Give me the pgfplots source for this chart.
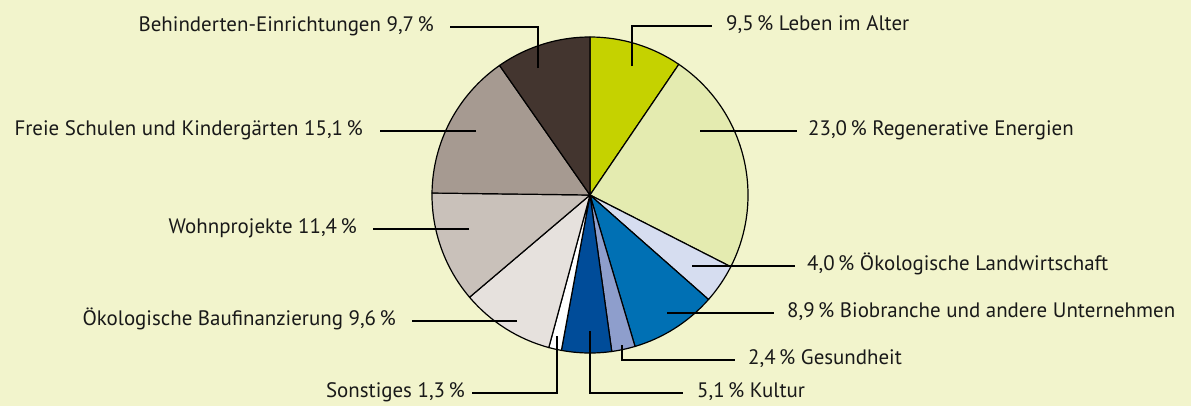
\documentclass[border=0pt]{standalone}
\usepackage{pgfplots}
\pgfplotsset{compat=1.18}
\usepackage{pgfplotstable}
\usepackage{fontspec}
\setmainfont{PT Sans}
\definecolor{bgc}{HTML}{F2F4CC}
\definecolor{cA}{HTML}{C5D200}
\definecolor{cB}{HTML}{E4EBB0}
\definecolor{cC}{HTML}{D6DDF0}
\definecolor{cD}{HTML}{0070B4}
\definecolor{cE}{HTML}{8E9ECC}
\definecolor{cF}{HTML}{004C99}
\definecolor{cG}{HTML}{FFFFFF}
\definecolor{cH}{HTML}{E6E1DD}
\definecolor{cI}{HTML}{C9C1BA}
\definecolor{cJ}{HTML}{A69A91}
\definecolor{cK}{HTML}{43352F}
\pgfplotstableread{
val col
9.5 cA
23.0 cB
4.0 cC
8.9 cD
2.4 cE
5.1 cF
1.3 cG
9.6 cH
11.4 cI
15.1 cJ
9.7 cK
}\piedata
\begin{document}
\begin{tikzpicture}
\begin{axis}[x=1bp,y=1bp,xmin=0,xmax=1191,ymin=0,ymax=406,y dir=reverse,
  hide axis,clip=false,enlargelimits=false]
\fill[bgc] (axis cs:0,0) rectangle (axis cs:1191,406);
\def\cum{0}
\pgfplotsforeachungrouped \i in {0,...,10}{%
  \pgfplotstablegetelem{\i}{val}\of\piedata
  \let\v\pgfplotsretval
  \pgfplotstablegetelem{\i}{col}\of\piedata
  \let\c\pgfplotsretval
  \pgfmathsetmacro\a{90-3.6*\cum}%
  \pgfmathsetmacro\b{90-3.6*(\cum+\v)}%
  \edef\tmp{\noexpand\filldraw[fill=\c,draw=black,line width=1.2bp,line join=round] (axis cs:590,195) -- ++(\a:158bp) arc[start angle=\a,end angle=\b,radius=158bp] -- cycle;}%
  \tmp
  \pgfmathsetmacro\cum{\cum+\v}%
}
\tikzset{ld/.style={line width=2.7bp,black},lb/.style={font=\fontsize{21}{24}\selectfont,inner sep=0pt,text=black!90}}
% right side
\draw[ld] (axis cs:632,66) -- (axis cs:632,26) -- (axis cs:712,26);
\node[lb,anchor=mid west] at (axis cs:726,28) {9,5\,\% Leben im Alter};
\draw[ld] (axis cs:700,131) -- (axis cs:797,131);
\node[lb,anchor=mid west] at (axis cs:808,133) {23,0\,\% Regenerative Energien};
\draw[ld] (axis cs:692,266) -- (axis cs:795,266);
\node[lb,anchor=mid west] at (axis cs:807,268) {4,0\,\% Ökologische Landwirtschaft};
\draw[ld] (axis cs:667,313) -- (axis cs:774,313);
\node[lb,anchor=mid west] at (axis cs:787,315) {8,9\,\% Biobranche und andere Unternehmen};
\draw[ld] (axis cs:622,345) -- (axis cs:622,360) -- (axis cs:735,360);
\node[lb,anchor=mid west] at (axis cs:748,362) {2,4\,\% Gesundheit};
\draw[ld] (axis cs:590,331) -- (axis cs:590,393) -- (axis cs:683,393);
\node[lb,anchor=mid west] at (axis cs:697,395) {5,1\,\% Kultur};
% left side
\draw[ld] (axis cs:557,336) -- (axis cs:557,393) -- (axis cs:472,393);
\node[lb,anchor=mid east] at (axis cs:465,395) {Sonstiges 1,3\,\%};
\draw[ld] (axis cs:517,321) -- (axis cs:412,321);
\node[lb,anchor=mid east] at (axis cs:396,323) {Ökologische Baufinanzierung 9,6\,\%};
\draw[ld] (axis cs:469,229) -- (axis cs:373,229);
\node[lb,anchor=mid east] at (axis cs:357,231) {Wohnprojekte 11,4\,\%};
\draw[ld] (axis cs:476,131) -- (axis cs:380,131);
\node[lb,anchor=mid east] at (axis cs:363,133) {Freie Schulen und Kindergärten 15,1\,\%};
\draw[ld] (axis cs:538,68) -- (axis cs:538,27) -- (axis cs:450,27);
\node[lb,anchor=mid east] at (axis cs:434,29) {Behinderten-Einrichtungen 9,7\,\%};
\end{axis}
\end{tikzpicture}
\end{document}
